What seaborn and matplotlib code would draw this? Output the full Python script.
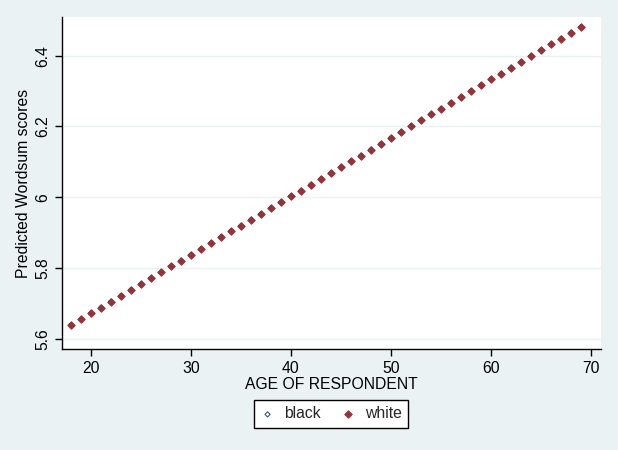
import pandas as pd
import matplotlib
matplotlib.use("Agg")
import matplotlib.pyplot as plt
import seaborn as sns

## data --------------------------------------------------------------------
ages = list(range(18, 70))
pred_white = [5.640, 5.656, 5.673, 5.689, 5.706, 5.722, 5.739, 5.755, 5.772, 5.788,
              5.805, 5.821, 5.838, 5.854, 5.871, 5.887, 5.904, 5.920, 5.937, 5.953,
              5.970, 5.986, 6.003, 6.019, 6.036, 6.052, 6.069, 6.085, 6.102, 6.118,
              6.135, 6.151, 6.168, 6.184, 6.201, 6.217, 6.234, 6.250, 6.267, 6.283,
              6.300, 6.316, 6.333, 6.349, 6.366, 6.382, 6.399, 6.415, 6.432, 6.448,
              6.465, 6.481]
# black predictions sit underneath the white ones
pred_black = list(pred_white)
x_ticks = [20, 30, 40, 50, 60, 70]
y_ticks = [5.6, 5.8, 6.0, 6.2, 6.4]
y_tick_labels = ["5.6", "5.8", "6", "6.2", "6.4"]

## style -------------------------------------------------------------------
sns.set_theme(style="white")
plt.rcParams['font.family'] = ['Liberation Sans', 'DejaVu Sans']
bg = "#EAF2F3"
navy = "#1A476F"
maroon = "#90353B"
fs = 11.3

df_b = pd.DataFrame({"age": ages, "pred": pred_black})
df_w = pd.DataFrame({"age": ages, "pred": pred_white})

fig = plt.figure(figsize=(6.18, 4.5), dpi=100, facecolor=bg)
ax = fig.add_axes([62/618, 1 - 349/450, (601-62)/618, (349-17)/450])
ax.set_facecolor("white")

sns.scatterplot(data=df_b, x="age", y="pred", ax=ax, marker="D", s=7,
                facecolor="none", edgecolor=navy, linewidth=0.7, label="black")
sns.scatterplot(data=df_w, x="age", y="pred", ax=ax, marker="D", s=14,
                color=maroon, edgecolor=maroon, linewidth=0.8, label="white")

ax.set_xlim(17.1, 71.0)
ax.set_ylim(5.572, 6.509)
ax.set_xticks(x_ticks)
ax.set_yticks(y_ticks)
ax.set_yticklabels(y_tick_labels, rotation=90, va="center")
ax.yaxis.grid(True, color="#EAF2F3", linewidth=1.0)
ax.xaxis.grid(False)
ax.set_axisbelow(True)

for s in ["top", "right"]:
    ax.spines[s].set_visible(False)
for s in ["left", "bottom"]:
    ax.spines[s].set_color("black")
    ax.spines[s].set_linewidth(1.0)
ax.tick_params(axis="both", which="major", direction="out", length=5, width=1,
               color="black", labelsize=fs, labelcolor="black", left=True, bottom=True)

ax.set_xlabel("AGE OF RESPONDENT", fontsize=fs, color="black", labelpad=1)
ax.set_ylabel("Predicted Wordsum scores", fontsize=fs, color="black", labelpad=3)

leg = ax.legend(loc="center", bbox_to_anchor=(331/618, 1 - 414/450),
                bbox_transform=fig.transFigure, ncol=2, frameon=True,
                fancybox=False, edgecolor="black", framealpha=1, fontsize=fs,
                handlelength=0.9, handletextpad=0.6, columnspacing=1.3,
                borderpad=0.4, borderaxespad=0)
leg.get_frame().set_linewidth(1.0)

fig.savefig("out.png", dpi=100, facecolor=bg)
